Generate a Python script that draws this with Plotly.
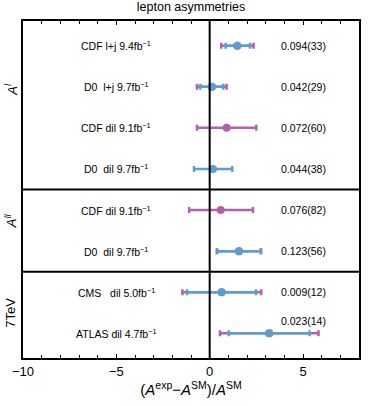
import plotly.graph_objects as go

# rows, top to bottom
labels = [
    "CDF l+j 9.4fb<sup>−1</sup>",
    "D0&nbsp;&nbsp;l+j 9.7fb<sup>−1</sup>",
    "CDF dil 9.1fb<sup>−1</sup>",
    "D0&nbsp;&nbsp;dil 9.7fb<sup>−1</sup>",
    "CDF dil 9.1fb<sup>−1</sup>",
    "D0&nbsp;&nbsp;dil 9.7fb<sup>−1</sup>",
    "CMS&nbsp;&nbsp;&nbsp;dil 5.0fb<sup>−1</sup>",
    "ATLAS dil 4.7fb<sup>−1</sup>",
]
values = ["0.094(33)", "0.042(29)", "0.072(60)", "0.044(38)",
          "0.076(82)", "0.123(56)", "0.009(12)", "0.023(14)"]
rows = [1, 2, 3, 4, 5, 6, 7, 8]
center = [1.48, 0.12, 0.91, 0.18, 0.59, 1.57, 0.64, 3.19]

# inner (blue) error bars, None = not shown
blue_lo = [0.86, -0.50, None, -0.84, None, 0.41, -1.21, 1.02]
blue_hi = [2.16, 0.73, None, 1.21, None, 2.73, 2.48, 5.35]
# outer (magenta) error bars
mag_lo = [0.62, -0.68, -0.68, None, -1.10, 0.38, -1.46, 0.55]
mag_hi = [2.35, 0.91, 2.50, None, 2.32, 2.76, 2.76, 5.83]

groups = ["<i>A</i><sup><i>l</i></sup>", "<i>A</i><sup><i>ll</i></sup>", "7TeV"]
group_y = [2.05, 5.25, 7.5]
separators = [4.5, 6.5]

BLUE = "#5b9fd0"
MAG = "#b262a6"
FONT = "Liberation Sans"


def pick(lo, hi):
    y, x, plus, minus = [], [], [], []
    for r, c, a, b in zip(rows, center, lo, hi):
        if a is None:
            continue
        y.append(r)
        x.append(c)
        plus.append(b - c)
        minus.append(c - a)
    return x, y, plus, minus


fig = go.Figure()

for lo, hi, col in [(mag_lo, mag_hi, MAG), (blue_lo, blue_hi, BLUE)]:
    x, y, plus, minus = pick(lo, hi)
    fig.add_scatter(
        x=x, y=y, mode="markers",
        marker=dict(color=col, size=8),
        error_x=dict(type="data", symmetric=False, array=plus, arrayminus=minus,
                     color=col, thickness=2.5, width=3),
        showlegend=False, cliponaxis=False,
    )

for r, t in zip(rows, labels):
    fig.add_annotation(x=-5, y=r, text=t, showarrow=False, xanchor="center",
                       font=dict(size=10.5, color="black"))
for r, t in zip(rows, values):
    yy = r - 0.3 if r == 8 else r
    fig.add_annotation(x=3.69, y=yy, text=t, showarrow=False, xanchor="left",
                       font=dict(size=10.5, color="black"))

for g, gy in zip(groups, group_y):
    fig.add_annotation(x=-0.036, xref="paper", y=gy, text=g, showarrow=False,
                       textangle=-90, xanchor="center", yanchor="middle",
                       font=dict(size=13, color="black"))

fig.add_shape(type="line", x0=0, x1=0, y0=0, y1=1, xref="x", yref="paper",
              line=dict(color="black", width=2))
for s in separators:
    fig.add_shape(type="line", x0=0, x1=1, y0=s, y1=s, xref="paper", yref="y",
                  line=dict(color="black", width=2))

fig.update_xaxes(
    range=[-10, 8], tickvals=[-10, -5, 0, 5], ticktext=["−10", "−5", "0", "5"],
    ticks="inside", ticklen=4, tickcolor="black", tickwidth=1.2,
    minor=dict(dtick=1, ticks="inside", ticklen=3, tickcolor="black"),
    showline=True, linecolor="black", linewidth=2, mirror="ticks",
    showgrid=False, zeroline=False,
    tickfont=dict(size=13, color="black"),
    title=dict(text="(<i>A</i><sup>exp</sup>−<i>A</i><sup>SM</sup>)/<i>A</i><sup>SM</sup>",
               font=dict(size=15, color="black"), standoff=3),
)
fig.update_yaxes(
    range=[8.6, 0.4], showticklabels=False, ticks="",
    showline=True, linecolor="black", linewidth=2, mirror=True,
    showgrid=False, zeroline=False,
)

fig.update_layout(
    width=382, height=406,
    margin=dict(l=23, r=23, t=21, b=48),
    plot_bgcolor="white", paper_bgcolor="white",
    font=dict(family=FONT, color="black"),
    title=dict(text="lepton asymmetries", x=0.5, xanchor="center",
               y=0.995, yanchor="top", font=dict(size=12.5, color="black")),
)

fig.write_html("out.html", config={"displayModeBar": False},
               post_script="document.body.style.margin='0';")
